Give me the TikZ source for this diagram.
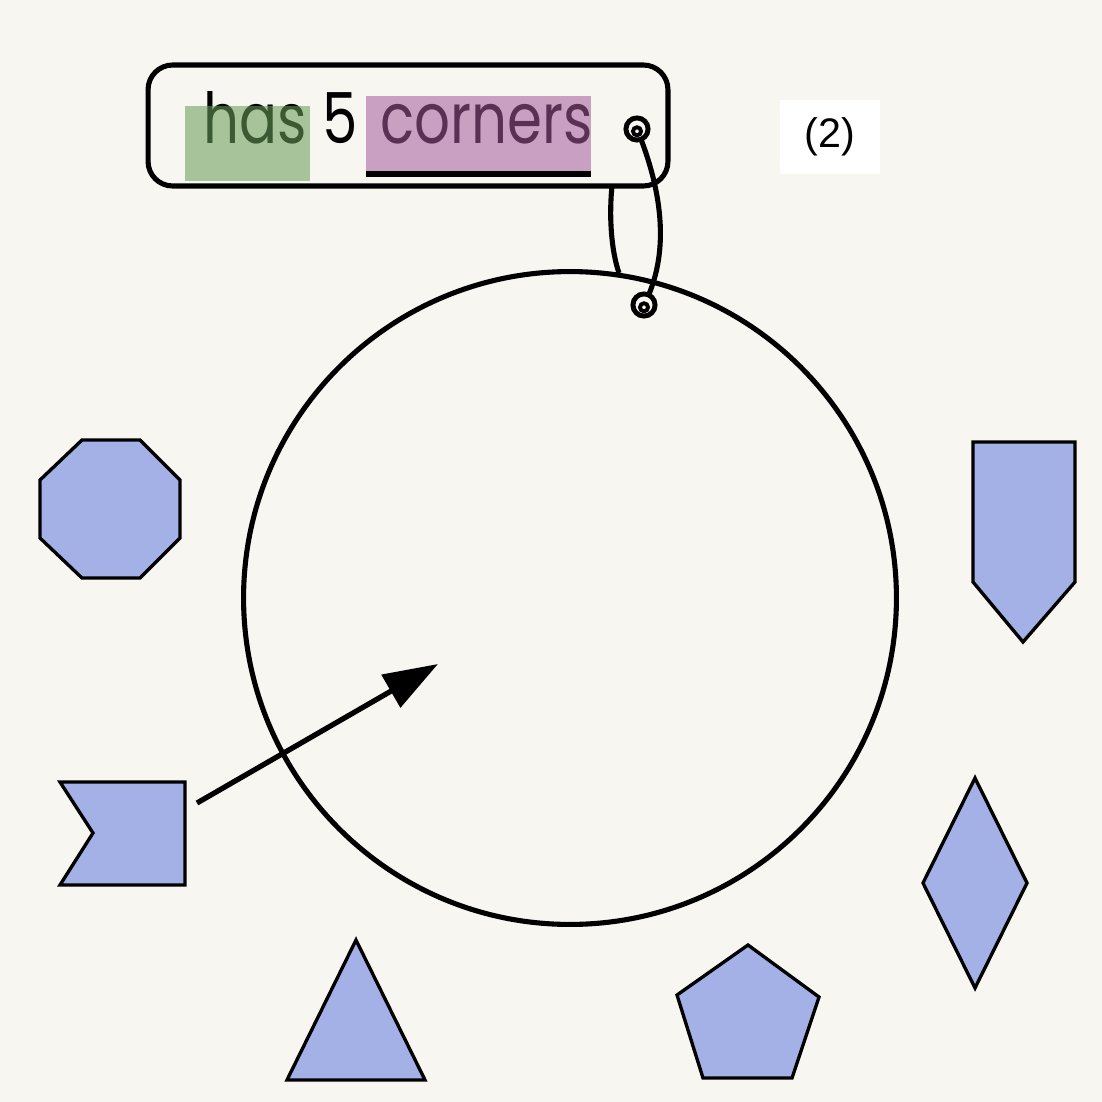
\documentclass[tikz,border=0pt]{standalone}
\usepackage{fontspec}
\setmainfont{Poppins}
\newfontfamily\arialf{Liberation Sans}
\usetikzlibrary{arrows.meta}
\definecolor{bgc}{RGB}{247,246,240}
\definecolor{shapefill}{RGB}{163,177,230}
\definecolor{greenhl}{RGB}{105,158,88}
\definecolor{pinkhl}{RGB}{164,91,155}
\newcommand{\wordbox}[1]{\scalebox{0.8}[1]{#1}}
\begin{document}
\begin{tikzpicture}[x=0.02cm,y=-0.02cm,
  shapestyle/.style={fill=shapefill, draw=black, line width=1.9pt, line join=miter},
  thick line/.style={draw=black, line width=2.9pt},
  word/.style={anchor=base west, inner sep=0pt, font=\fontsize{40}{40}\selectfont},
  ring/.style={draw=black, line width=2.8pt}]
\fill[bgc] (0,0) rectangle (1102,1102);
\useasboundingbox (0,0) rectangle (1102,1102);

% label card
\node (labelbox) [thick line, rounded corners=14pt, minimum width=10.4cm, minimum height=2.42cm, inner sep=0pt] at (408,125.5) {};
\node (has) [word] at (203,143) {\wordbox{has}};
\node (five) [word] at (322,143) {\wordbox{5}};
\node (corners) [word] at (380,143) {\wordbox{corners}};
\fill[greenhl, fill opacity=0.57] (185,106) rectangle (310,181);
\fill[pinkhl, fill opacity=0.55] (366,96) rectangle (591,172);
\fill[black] (366,171) rectangle (591,177);

% (2)
\node (num) [fill=white, minimum width=2cm, minimum height=1.48cm, inner sep=0pt, font=\arialf\fontsize{23.5}{23.5}\selectfont] at (830,137) {(2)};

% set circle
\node (set) [circle, thick line, minimum size=13.06cm, inner sep=0pt] at (570,598) {};

% rings and tie
\coordinate (ringA) at (637,129);
\coordinate (ringB) at (644,305);
\coordinate (tieTop) at (612,186);
\coordinate (tieBot) at (619,273);
\draw[thick line] (ringA) .. controls (668,205) and (666,262) .. (ringB);
\draw[thick line] (tieTop) .. controls (609,215) and (611,250) .. (tieBot);
\draw[ring, fill=bgc] (ringA) circle (6.3pt);
\draw[ring, line width=2.2pt] ([yshift=-1.3pt]ringA) circle (2.3pt);
\draw[ring, fill=bgc] (ringB) circle (6.3pt);
\draw[ring, line width=2.2pt] ([yshift=-1.3pt]ringB) circle (2.3pt);

% shapes
\draw[shapestyle] (82,440) -- (140,440) -- (180,480) -- (180,538) -- (140,578) -- (82,578) -- (40,538) -- (40,480) -- cycle;
\draw[shapestyle] (973,442) -- (1075,442) -- (1075,582) -- (1023,642) -- (973,582) -- cycle;
\draw[shapestyle] (60,782) -- (185,782) -- (185,885) -- (60,885) -- (93,833) -- cycle;
\draw[shapestyle] (975,778) -- (1027,883) -- (975,988) -- (923,883) -- cycle;
\draw[shapestyle] (356,940) -- (425,1080) -- (287,1080) -- cycle;
\draw[shapestyle] (748,945) -- (819,997) -- (792,1078) -- (703,1078) -- (677,995) -- cycle;

% arrow
\coordinate (arrStart) at (197,803);
\coordinate (arrTip) at (438,664);
\draw[draw=black, line width=3pt, -{Triangle[length=31pt,width=21pt]}] (arrStart) -- (arrTip);
\end{tikzpicture}
\end{document}
